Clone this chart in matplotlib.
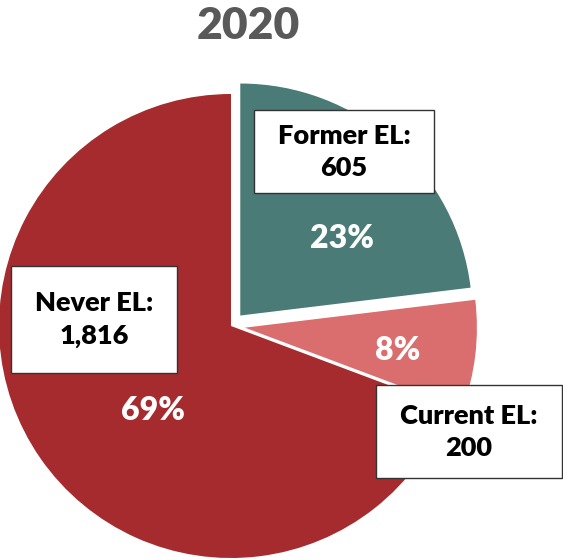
import matplotlib
matplotlib.use("Agg")
import matplotlib.pyplot as plt
from matplotlib.patches import Rectangle

plt.rcParams['font.family'] = ['Lato', 'DejaVu Sans']

title = "2020"
categories = ["Former EL", "Current EL", "Never EL"]
values = [605, 200, 1816]
percents = ["23%", "8%", "69%"]
colors = ["#4A7B76", "#DA6D6D", "#A62B2E"]

W, H = 563, 560
fig = plt.figure(figsize=(W / 100, H / 100), dpi=100)
ax = fig.add_axes([0, 0, 1, 1])

cx, cy, r = 231, H - 326, 232
explode = [14, 14, 0]
wedges, _ = ax.pie(values, colors=colors, startangle=90, counterclock=False,
                   center=(cx, cy), radius=r, explode=explode,
                   wedgeprops=dict(linewidth=0))
ax.set_xlim(0, W)
ax.set_ylim(0, H)
ax.set_aspect('auto')
ax.axis('off')

# label boxes (x, y_top, w, h) in image pixels
boxes = [(254, 110, 180, 83), (376, 385, 186, 93), (11, 266, 166, 107)]
for (bx, by, bw, bh), cat, val in zip(boxes, categories, values):
    ax.add_patch(Rectangle((bx, H - by - bh), bw, bh, facecolor="white",
                           edgecolor="#333333", linewidth=1.0, zorder=3))
    ax.text(bx + bw / 2, H - (by + bh / 2), f"{cat}:\n{val:,}", ha="center",
            va="center", fontsize=19.5, fontweight="heavy", color="black",
            linespacing=1.4, zorder=4)

pct_pos = [(342, 238), (398, 350), (153, 410)]
for (px, py), p in zip(pct_pos, percents):
    ax.text(px, H - py, p, ha="center", va="center", fontsize=23,
            fontweight="heavy", color="white", zorder=4)

ax.text(248, H - 26, title, ha="center", va="center", fontsize=32,
        fontweight="heavy", color="#595959")

fig.savefig("out.png", dpi=100)
